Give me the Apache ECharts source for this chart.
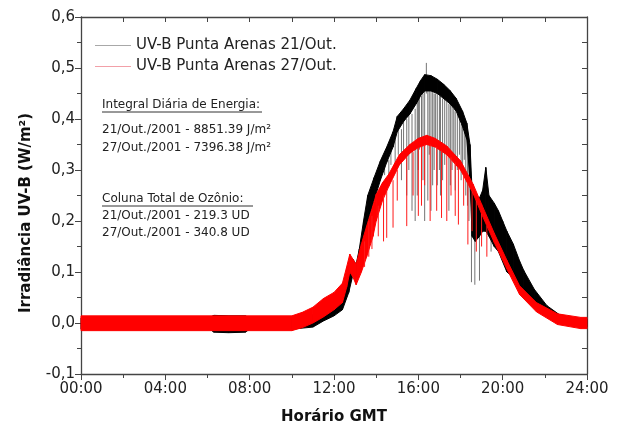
<!DOCTYPE html>
<html>
<head>
<meta charset="utf-8">
<script src="https://cdn.jsdelivr.net/npm/echarts@6/dist/echarts.min.js"></script>
<style>
  html, body { margin: 0; padding: 0; background: #fff; }
  #chart { width: 618px; height: 430px; }
</style>
</head>
<body>
<div id="chart"></div>
<script>
'use strict'

// 21/Out. (preto) - faixa do sinal: hora, limite superior, limite inferior
var BLACK_T  = [0, 6.1, 6.3, 7.0, 7.8, 8.0, 10.0, 10.5, 11.0, 11.5, 12.0, 12.4, 12.7, 12.9, 13.05, 13.2, 13.4, 13.6, 13.9, 14.2, 14.5, 14.8, 15.0, 15.3, 15.6, 15.9, 16.1, 16.3, 16.6, 16.9, 17.2, 17.5, 17.8, 18.1, 18.3, 18.45, 18.55, 18.7, 18.9, 19.05, 19.2, 19.35, 19.6, 19.8, 20.0, 20.2, 20.5, 20.8, 21.0, 21.5, 22.1, 22.7, 23.3, 24];
var BLACK_HI = [0.010, 0.011, 0.015, 0.014, 0.014, 0.010, 0.010, 0.012, 0.016, 0.024, 0.036, 0.052, 0.090, 0.125, 0.115, 0.145, 0.200, 0.250, 0.285, 0.318, 0.345, 0.375, 0.405, 0.420, 0.437, 0.460, 0.475, 0.487, 0.485, 0.478, 0.468, 0.456, 0.440, 0.415, 0.392, 0.350, 0.260, 0.250, 0.245, 0.260, 0.305, 0.250, 0.235, 0.220, 0.200, 0.180, 0.155, 0.122, 0.103, 0.066, 0.034, 0.016, 0.010, 0.008];
var BLACK_LO = [-0.012, -0.012, -0.018, -0.019, -0.018, -0.012, -0.012, -0.010, -0.008, 0.004, 0.014, 0.026, 0.060, 0.095, 0.090, 0.110, 0.150, 0.200, 0.240, 0.280, 0.315, 0.345, 0.375, 0.395, 0.410, 0.430, 0.445, 0.455, 0.455, 0.450, 0.440, 0.430, 0.415, 0.385, 0.360, 0.280, 0.170, 0.160, 0.170, 0.180, 0.180, 0.170, 0.150, 0.140, 0.120, 0.100, 0.090, 0.072, 0.065, 0.038, 0.016, 0.002, -0.006, -0.008];

// 21/Out. - picos (nuvens)
var BLACK_SPIKE_T  = [14.4, 14.6, 14.7, 14.9, 15.05, 15.2, 15.3, 15.45, 15.55, 15.7, 15.85, 15.95, 16.0, 16.05, 16.15, 16.22, 16.3, 16.38, 16.45, 16.52, 16.6, 16.68, 16.75, 16.82, 16.9, 17.0, 17.05, 17.15, 17.25, 17.35, 17.45, 17.52, 17.6, 17.68, 17.75, 17.85, 17.95, 18.03, 18.1, 18.18, 18.25, 18.33, 18.4, 18.52, 18.68, 18.9, 19.45];
var BLACK_SPIKE_HI = [0.330, 0.320, 0.360, 0.360, 0.390, 0.380, 0.400, 0.400, 0.410, 0.410, 0.420, 0.440, 0.440, 0.445, 0.445, 0.450, 0.455, 0.510, 0.455, 0.455, 0.455, 0.455, 0.450, 0.450, 0.450, 0.445, 0.445, 0.440, 0.440, 0.435, 0.430, 0.430, 0.425, 0.420, 0.415, 0.410, 0.400, 0.390, 0.385, 0.375, 0.370, 0.360, 0.340, 0.200, 0.180, 0.180, 0.180];
var BLACK_SPIKE_LO = [0.290, 0.270, 0.310, 0.300, 0.330, 0.280, 0.320, 0.250, 0.300, 0.220, 0.200, 0.250, 0.300, 0.340, 0.260, 0.280, 0.200, 0.450, 0.240, 0.330, 0.220, 0.270, 0.300, 0.350, 0.270, 0.300, 0.250, 0.280, 0.310, 0.330, 0.220, 0.270, 0.300, 0.330, 0.260, 0.300, 0.330, 0.280, 0.300, 0.320, 0.250, 0.230, 0.200, 0.080, 0.075, 0.083, 0.140];

// 27/Out. (vermelho)
var RED_T  = [0, 10.0, 10.5, 11.0, 11.5, 12.0, 12.4, 12.6, 12.75, 12.9, 13.05, 13.3, 13.55, 13.85, 14.0, 14.3, 14.6, 15.1, 15.6, 16.0, 16.4, 16.8, 17.35, 18.0, 18.6, 19.0, 19.6, 20.2, 20.8, 21.6, 22.6, 23.7, 24];
var RED_HI = [0.014, 0.014, 0.021, 0.031, 0.048, 0.060, 0.078, 0.110, 0.135, 0.125, 0.115, 0.155, 0.190, 0.230, 0.252, 0.275, 0.292, 0.330, 0.350, 0.362, 0.368, 0.362, 0.347, 0.318, 0.272, 0.233, 0.176, 0.123, 0.073, 0.040, 0.018, 0.011, 0.011];
var RED_LO = [-0.015, -0.015, -0.009, 0.000, 0.012, 0.026, 0.040, 0.070, 0.100, 0.090, 0.075, 0.100, 0.130, 0.170, 0.200, 0.240, 0.268, 0.310, 0.333, 0.344, 0.350, 0.345, 0.330, 0.300, 0.254, 0.214, 0.158, 0.106, 0.056, 0.022, -0.003, -0.011, -0.011];

var RED_SPIKE_T  = [13.45, 13.65, 13.8, 14.1, 14.35, 14.5, 14.8, 15.0, 15.45, 15.75, 16.0, 16.15, 16.3, 16.56, 16.87, 17.1, 17.35, 17.55, 17.75, 17.9, 18.15, 18.35, 18.55, 18.75, 19.0, 19.25];
var RED_SPIKE_HI = [0.160, 0.200, 0.210, 0.230, 0.250, 0.260, 0.280, 0.300, 0.325, 0.335, 0.344, 0.346, 0.350, 0.350, 0.345, 0.338, 0.330, 0.325, 0.315, 0.305, 0.290, 0.275, 0.258, 0.240, 0.214, 0.190];
var RED_SPIKE_LO = [0.110, 0.130, 0.145, 0.170, 0.160, 0.167, 0.187, 0.240, 0.190, 0.250, 0.210, 0.230, 0.270, 0.200, 0.220, 0.206, 0.200, 0.250, 0.210, 0.193, 0.230, 0.154, 0.180, 0.140, 0.150, 0.130];

var X_MIN = 0, X_MAX = 24, X_STEP = 4;
var Y_MIN = -0.1, Y_MAX = 0.6, Y_STEP = 0.1;

var NAME_21 = 'UV-B Punta Arenas 21/Out.';
var NAME_27 = 'UV-B Punta Arenas 27/Out.';

var FONT = 'DejaVu Sans';

function rows(ts, hi, lo) {
    return ts.map(function (t, i) { return [t, hi[i], lo[i]]; });
}

// faixa preenchida entre limite superior e inferior, trecho a trecho
function bandSeries(name, data, color) {
    return {
        type: 'custom',
        name: name,
        silent: true,
        data: data,
        encode: { x: 0, y: [1, 2] },
        itemStyle: { color: color },
        renderItem: function (params, api) {
            var i = params.dataIndex;
            if (i >= data.length - 1) return null;
            var a = data[i], b = data[i + 1];
            var pts = [
                api.coord([a[0], a[1]]),
                api.coord([b[0], b[1]]),
                api.coord([b[0], b[2]]),
                api.coord([a[0], a[2]])
            ];
            return {
                type: 'polygon',
                shape: { points: pts },
                style: { fill: color, stroke: color, lineWidth: 1 }
            };
        }
    };
}
function spikeSeries(data, color) {
    return {
        type: 'custom',
        silent: true,
        data: data,
        encode: { x: 0, y: [1, 2] },
        renderItem: function (params, api) {
            var a = api.coord([api.value(0), api.value(1)]);
            var b = api.coord([api.value(0), api.value(2)]);
            return {
                type: 'line',
                shape: { x1: a[0], y1: a[1], x2: b[0], y2: b[1] },
                style: { stroke: color, lineWidth: 1 }
            };
        }
    };
}
function hh(v) {
    return (v < 10 ? '0' : '') + v + ':00';
}

var chart = echarts.init(document.getElementById('chart'));

var axisLine = { show: true, onZero: false, lineStyle: { color: '#444', width: 1.3 } };
var tickStyle = { color: '#444', width: 1 };

chart.setOption({
    animation: false,
    backgroundColor: '#fff',
    grid: { left: 81, right: 31, top: 17, bottom: 52 },
    legend: {
        orient: 'vertical',
        left: 90,
        top: 33,
        itemWidth: 36,
        itemHeight: 1,
        itemGap: 6,
        icon: 'rect',
        textStyle: { fontFamily: FONT, fontSize: 15, color: '#222' },
        data: [
            { name: NAME_21, itemStyle: { color: '#a8a8a8' } },
            { name: NAME_27, itemStyle: { color: '#f2a0a8' } }
        ]
    },
    xAxis: [{
        type: 'value', min: X_MIN, max: X_MAX, interval: X_STEP,
        name: 'Horário GMT', nameLocation: 'middle', nameGap: 36,
        nameTextStyle: { fontFamily: FONT, fontSize: 15, fontWeight: 'bold', color: '#111' },
        axisLine: axisLine,
        axisTick: { show: true, inside: false, length: 6, lineStyle: tickStyle },
        minorTick: { show: true, splitNumber: 2, length: 4, lineStyle: tickStyle },
        splitLine: { show: false },
        axisLabel: { fontFamily: FONT, fontSize: 15, color: '#222', margin: 8, formatter: hh }
    }, {
        type: 'value', position: 'top', min: X_MIN, max: X_MAX, interval: X_STEP,
        axisLine: axisLine,
        axisTick: { show: true, inside: true, length: 5, lineStyle: tickStyle },
        minorTick: { show: true, splitNumber: 2, length: 5, lineStyle: tickStyle },
        splitLine: { show: false },
        axisLabel: { show: false }
    }],
    yAxis: [{
        type: 'value', min: Y_MIN, max: Y_MAX, interval: Y_STEP,
        axisLine: axisLine,
        axisTick: { show: true, inside: false, length: 6, lineStyle: tickStyle },
        minorTick: { show: true, splitNumber: 2, length: 4, lineStyle: tickStyle },
        splitLine: { show: false },
        axisLabel: {
            fontFamily: FONT, fontSize: 15, color: '#222', margin: 6,
            formatter: function (v) { return (Math.round(v * 10) / 10).toFixed(1).replace('.', ','); }
        }
    }, {
        type: 'value', position: 'right', min: Y_MIN, max: Y_MAX, interval: Y_STEP,
        axisLine: axisLine,
        axisTick: { show: true, inside: true, length: 5, lineStyle: tickStyle },
        minorTick: { show: true, splitNumber: 2, length: 5, lineStyle: tickStyle },
        splitLine: { show: false },
        axisLabel: { show: false }
    }],
    graphic: [
        {
            type: 'text', x: 26, y: 213, rotation: Math.PI / 2,
            style: {
                text: 'Irradiância UV-B (W/m²)', fontFamily: FONT, fontSize: 15, fontWeight: 'bold',
                fill: '#111', textAlign: 'center', textVerticalAlign: 'middle'
            }
        },
        { type: 'text', x: 102, y: 105, style: { text: 'Integral Diária de Energia:', fontFamily: FONT, fontSize: 12, fill: '#222', textVerticalAlign: 'middle' } },
        { type: 'line', shape: { x1: 102, y1: 112, x2: 262, y2: 112 }, style: { stroke: '#333', lineWidth: 1 } },
        { type: 'text', x: 102, y: 130, style: { text: '21/Out./2001 - 8851.39 J/m²', fontFamily: FONT, fontSize: 12, fill: '#222', textVerticalAlign: 'middle' } },
        { type: 'text', x: 102, y: 148, style: { text: '27/Out./2001 - 7396.38 J/m²', fontFamily: FONT, fontSize: 12, fill: '#222', textVerticalAlign: 'middle' } },
        { type: 'text', x: 102, y: 199, style: { text: 'Coluna Total de Ozônio:', fontFamily: FONT, fontSize: 12, fill: '#222', textVerticalAlign: 'middle' } },
        { type: 'line', shape: { x1: 102, y1: 206, x2: 253, y2: 206 }, style: { stroke: '#333', lineWidth: 1 } },
        { type: 'text', x: 102, y: 216, style: { text: '21/Out./2001 - 219.3 UD', fontFamily: FONT, fontSize: 12, fill: '#222', textVerticalAlign: 'middle' } },
        { type: 'text', x: 102, y: 233, style: { text: '27/Out./2001 - 340.8 UD', fontFamily: FONT, fontSize: 12, fill: '#222', textVerticalAlign: 'middle' } }
    ],
    series: [
        bandSeries(NAME_21, rows(BLACK_T, BLACK_HI, BLACK_LO), '#000'),
        spikeSeries(rows(BLACK_SPIKE_T, BLACK_SPIKE_HI, BLACK_SPIKE_LO), 'rgba(0,0,0,0.55)'),
        bandSeries(NAME_27, rows(RED_T, RED_HI, RED_LO), '#ff0000'),
        spikeSeries(rows(RED_SPIKE_T, RED_SPIKE_HI, RED_SPIKE_LO), '#ff1a1a')
    ]
});
</script>
</body>
</html>
